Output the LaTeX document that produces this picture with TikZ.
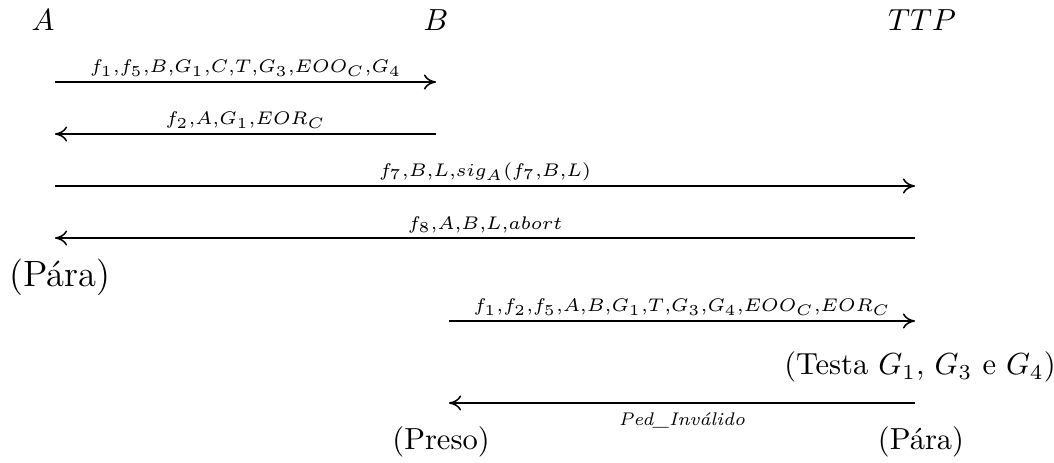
\documentclass[tikz,border=0pt]{standalone}
\usepackage{fontspec}
\usetikzlibrary{arrows.meta}
\begin{document}
\begin{tikzpicture}[x=0.328pt,y=-0.328pt,
  msg/.style={-{To[length=4pt,width=5pt]}, line width=0.5pt},
  lbl/.style={font=\fontsize{6}{7}\selectfont, inner sep=1pt},
  big/.style={font=\normalsize, inner sep=0pt}]
\useasboundingbox (0,0) rectangle (1054,462);
% participants
\node[big] (A) at (43,20) {$A$};
\node[big] (B) at (436,20) {$B$};
\node[big] (T) at (922,20) {$TTP$};
% endpoints
\coordinate (a1) at (55,82);  \coordinate (b1) at (436,82);
\coordinate (a2) at (55,134); \coordinate (b2) at (436,134);
\coordinate (a3) at (55,186); \coordinate (t3) at (915,186);
\coordinate (a4) at (55,238); \coordinate (t4) at (915,238);
\coordinate (b5) at (449,321); \coordinate (t5) at (915,321);
\coordinate (b6) at (449,403); \coordinate (t6) at (915,403);
% messages
\draw[msg] (a1) -- node[lbl, above=0.5pt] {$f_1{,}f_5{,}B{,}G_1{,}C{,}T{,}G_3{,}EOO_C{,}G_4$} (b1);
\draw[msg] (b2) -- node[lbl, above=0.5pt] {$f_2{,}A{,}G_1{,}EOR_C$} (a2);
\draw[msg] (a3) -- node[lbl, above=0.5pt] {$f_7{,}B{,}L{,}sig_A(f_7{,}B{,}L)$} (t3);
\draw[msg] (t4) -- node[lbl, above=0.5pt] {$f_8{,}A{,}B{,}L{,}abort$} (a4);
\node[big, font=\large] (pa1) at (60,277) {(Pára)};
\draw[msg] (b5) -- node[lbl, above=0.5pt] {$f_1{,}f_2{,}f_5{,}A{,}B{,}G_1{,}T{,}G_3{,}G_4{,}EOO_C{,}EOR_C$} (t5);
\node[big] (testa) at (920,367) {(Testa $G_1$, $G_3$ e $G_4$)};
\draw[msg] (t6) -- node[lbl, below=2pt] {\textit{Ped\_Inválido}} (b6);
\node[big] (preso) at (441,442) {(Preso)};
\node[big] (pa2) at (921,442) {(Pára)};
\end{tikzpicture}
\end{document}
